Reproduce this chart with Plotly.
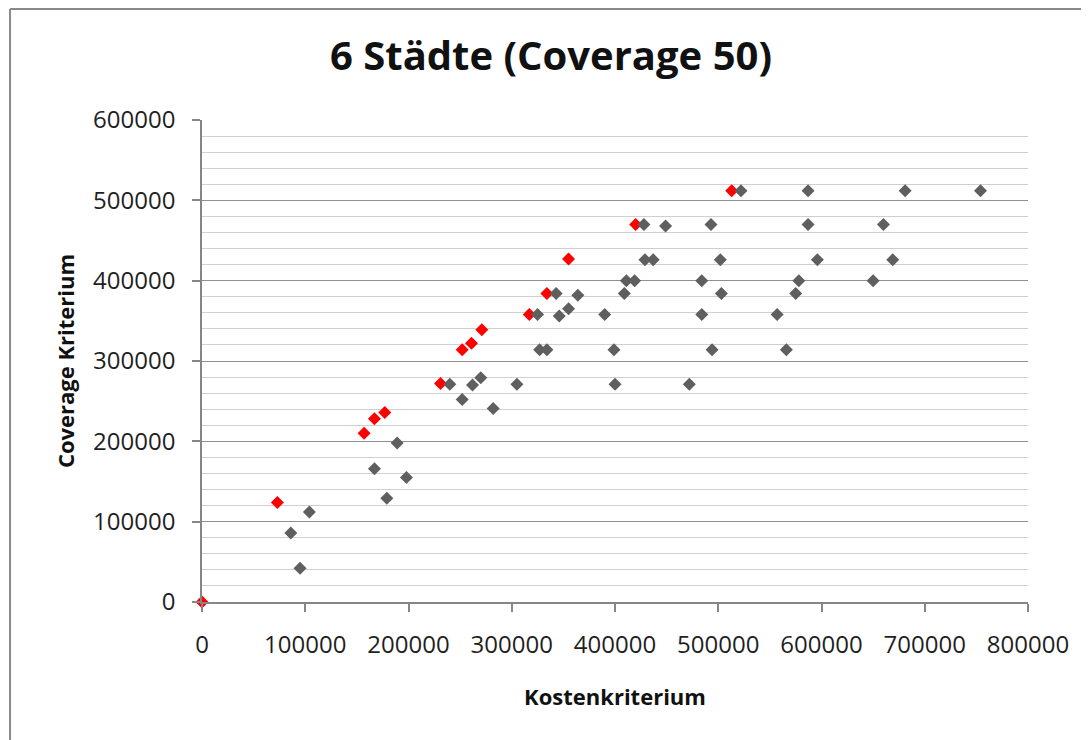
import plotly.graph_objects as go

# Pareto front (red)
red_x = [0, 73000, 157000, 167000, 177000, 231000, 252000, 261000, 271000,
         317000, 334000, 355000, 420000, 513000]
red_y = [0, 124000, 210000, 228000, 236000, 272000, 314000, 322000, 339000,
         358000, 384000, 427000, 470000, 512000]

# Other solutions (gray)
gray_x = [86000, 95000, 104000, 167000, 179000, 189000, 198000, 240000, 252000,
          262000, 270000, 282000, 305000, 325000, 327000, 334000, 343000, 346000,
          355000, 364000, 390000, 399000, 400000, 409000, 411000, 419000, 428000,
          429000, 437000, 449000, 472000, 484000, 484000, 493000, 494000, 502000,
          503000, 522000, 557000, 566000, 575000, 578000, 587000, 587000, 596000,
          650000, 660000, 669000, 681000, 754000]
gray_y = [86000, 42000, 112000, 166000, 129000, 198000, 155000, 271000, 252000,
          270000, 279000, 241000, 271000, 358000, 314000, 314000, 384000, 356000,
          365000, 382000, 358000, 314000, 271000, 384000, 400000, 400000, 470000,
          426000, 426000, 468000, 271000, 400000, 358000, 470000, 314000, 426000,
          384000, 512000, 358000, 314000, 384000, 400000, 512000, 470000, 426000,
          400000, 470000, 426000, 512000, 512000]

title_text = "6 Städte (Coverage 50)"
x_title = "Kostenkriterium"
y_title = "Coverage Kriterium"

FONT = "Open Sans"
AXIS_GRAY = "#868686"

fig = go.Figure()
fig.add_trace(go.Scatter(
    x=red_x, y=red_y, mode="markers", name="Pareto",
    marker=dict(symbol="diamond", size=10, color="#ff0000"),
    cliponaxis=False, showlegend=False))
fig.add_trace(go.Scatter(
    x=gray_x, y=gray_y, mode="markers", name="Lösungen",
    marker=dict(symbol="diamond", size=10, color="#5f5f5f"),
    cliponaxis=False, showlegend=False))

fig.update_layout(
    width=1089, height=740,
    margin=dict(l=194, r=69, t=112, b=146),
    paper_bgcolor="white", plot_bgcolor="white",
    font=dict(family=FONT, color="#222222"),
    title=dict(text=title_text, x=0.4986, xanchor="center", y=0.9358,
               yanchor="middle", xref="container", yref="container",
               font=dict(family=FONT, size=40, color="#111111", weight="bold")),
    xaxis=dict(
        range=[0, 800000], dtick=100000, tick0=0, showgrid=False,
        zeroline=False, showline=True, linecolor=AXIS_GRAY, linewidth=1.5,
        ticks="outside", ticklen=8, tickcolor=AXIS_GRAY, tickwidth=1.5,
        tickformat="d", ticklabelstandoff=12,
        tickfont=dict(family=FONT, size=24, color="#1f1f1f"),
        title=dict(text=x_title, standoff=31,
                   font=dict(family=FONT, size=22, color="#111111", weight="bold")),
        automargin=False),
    yaxis=dict(
        range=[0, 600000], dtick=100000, tick0=0,
        showgrid=True, gridcolor="#8f8f8f", gridwidth=1.2,
        minor=dict(dtick=20000, showgrid=True, gridcolor="#cfcfcf", gridwidth=1.2),
        zeroline=False, showline=True, linecolor=AXIS_GRAY, linewidth=1.5,
        ticks="outside", ticklen=8, tickcolor=AXIS_GRAY, tickwidth=1.5,
        tickformat="d", ticklabelstandoff=12,
        tickfont=dict(family=FONT, size=24, color="#1f1f1f"),
        title=dict(text=y_title, standoff=12,
                   font=dict(family=FONT, size=22, color="#111111", weight="bold")),
        automargin=False),
    shapes=[
        dict(type="line", xref="paper", yref="paper",
             x0=-0.2324, x1=-0.2324, y0=1.2303, y1=-0.4,
             line=dict(color="#8a8a8a", width=2)),
        dict(type="line", xref="paper", yref="paper",
             x0=-0.2324, x1=1.2, y0=1.2303, y1=1.2303,
             line=dict(color="#8a8a8a", width=2)),
    ],
)

fig.write_html("out.html")
